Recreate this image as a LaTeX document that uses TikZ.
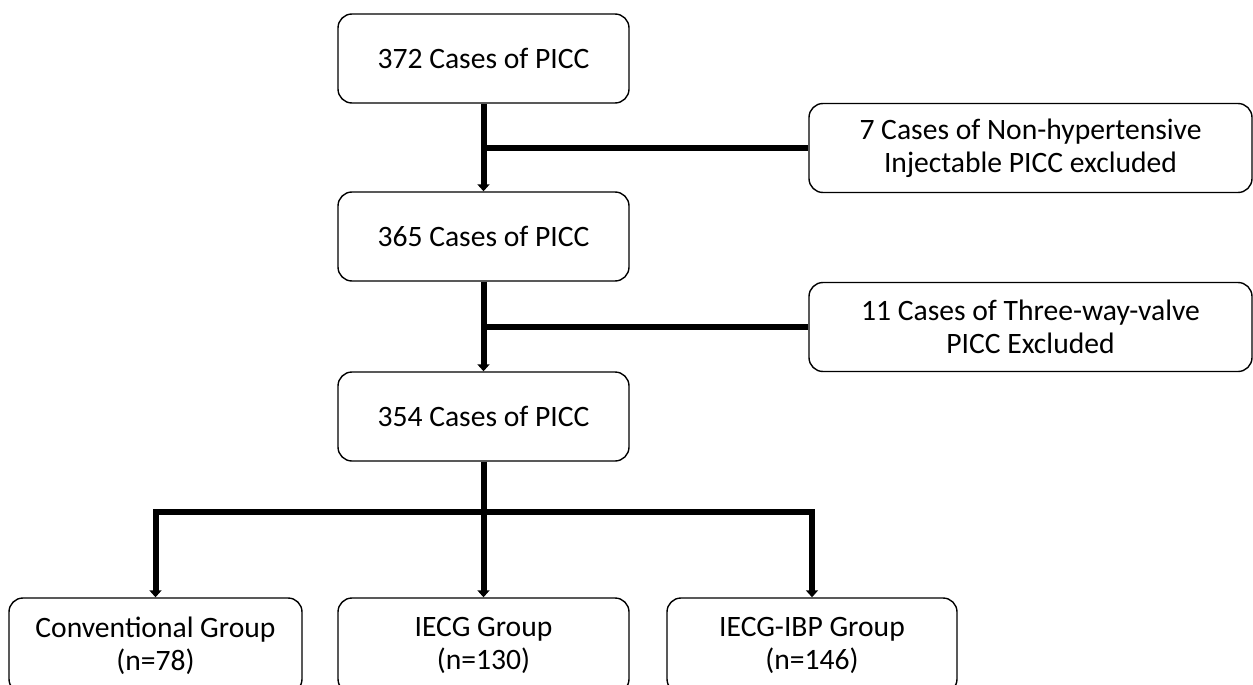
\documentclass[tikz,border=0pt]{standalone}
\usepackage{fontspec}
\setmainfont{Carlito}
\usetikzlibrary{arrows.meta}
\begin{document}
\begin{tikzpicture}[x=1pt,y=-1pt,
  box/.style={draw=black,line width=1.4pt,rounded corners=14pt,minimum width=291pt,minimum height=89pt,align=center,inner sep=0pt,font=\fontsize{29.6}{33}\selectfont},
  wbox/.style={box,minimum width=443pt},
  gbox/.style={box,minimum height=95pt},
  conn/.style={line width=6pt},
  arr/.style={conn,-{Triangle[width=12pt,length=7pt]}}]
\useasboundingbox (0,0) rectangle (1253,685);
\clip (0,0) rectangle (1253,685);
\node[box] (b1) at (483.5,58.5) {372 Cases of PICC};
\node[box] (b2) at (483.5,236.5) {365 Cases of PICC};
\node[box] (b3) at (483.5,416.5) {354 Cases of PICC};
\node[wbox] (e1) at (1030.5,148) {7 Cases of Non-hypertensive\\Injectable PICC excluded};
\node[wbox] (e2) at (1030.5,327) {11 Cases of Three-way-valve\\PICC Excluded};
\node[gbox,minimum width=293pt] (g1) at (155.5,645.5) {Conventional Group\\(n=78)};
\node[gbox] (g2) at (483.5,645.5) {IECG Group\\(n=130)};
\node[gbox,minimum width=290pt] (g3) at (812,645.5) {IECG-IBP Group\\(n=146)};
\coordinate (j1) at (b1.south |- e1.west);
\coordinate (j2) at (b2.south |- e2.west);
\coordinate (j3) at (483.5,512);
\coordinate (l3) at (g1.north |- j3);
\coordinate (r3) at (g3.north |- j3);
\draw[arr] (b1.south) -- (b2.north);
\draw[conn] (j1) -- (e1.west);
\draw[arr] (b2.south) -- (b3.north);
\draw[conn] (j2) -- (e2.west);
\draw[arr] (b3.south) -- (g2.north);
\draw[conn,line cap=rect] (l3) -- (r3);
\draw[arr] (l3) -- (g1.north);
\draw[arr] (r3) -- (g3.north);
\end{tikzpicture}
\end{document}
